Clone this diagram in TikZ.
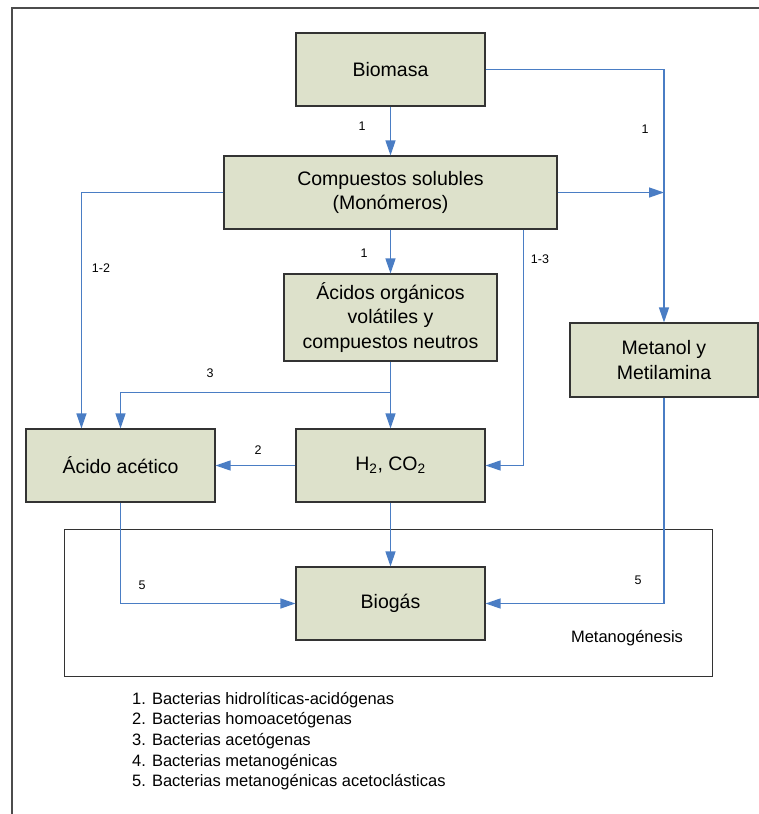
\documentclass[tikz,border=0pt]{standalone}
\usepackage{fontspec}
\setmainfont{Liberation Sans}
\usepackage{tikz}
\usetikzlibrary{calc}
\usetikzlibrary{arrows.meta}
\definecolor{boxfill}{HTML}{DDE1CB}
\definecolor{flowblue}{HTML}{4A7DC4}
\tikzset{stage/.style={rectangle, draw=black!80, fill=boxfill, line width=1.1pt, align=center, inner sep=0pt, font=\fontsize{19.5}{24.5}\selectfont}}
\tikzset{flow/.style={draw=flowblue, line width=1.3pt, -{Triangle[length=15pt, width=10pt]}}}
\tikzset{tag/.style={font=\fontsize{12.5}{15}\selectfont, inner sep=0pt}}
\tikzset{legend/.style={font=\fontsize{16.5}{20}\selectfont, inner sep=0pt, anchor=base west}}

\begin{document}
\begin{tikzpicture}[x=1pt,y=-1pt]
  \useasboundingbox (0,0) rectangle (759,814);
  \draw[black!70, line width=1.2pt] (12,814) -- (12,8) -- (759,8);
  % metanogenesis frame
  \draw[black!80, line width=1pt] (64,529) rectangle (712,676);
  \node[font=\fontsize{16.5}{20}\selectfont, inner sep=0pt] (metalab) at (627,638) {Metanogénesis};
  \foreach \x/\y/\lab/\w/\h/\txt in {
    390.5/69.5/bio/189/73/Biomasa,
    390.5/192.5/cs/333/73/Compuestos solubles\\(Monómeros),
    390.5/317.5/ao/213/87/Ácidos orgánicos\\volátiles y\\compuestos neutros,
    664/360/met/188/74/Metanol y\\Metilamina,
    120.5/465.5/ac/189/73/Ácido acético,
    390.5/465.5/h2/189/73/{H\textsubscript{2}, CO\textsubscript{2}},
    390.5/603.5/bg/189/73/Biogás%
  } {
    \node[stage, minimum width=\w pt, minimum height=\h pt] (\lab) at (\x, \y) {\txt};
  }
  \coordinate (split) at ($(ao.south)+(0,31)$);
  \draw[flow] (bio.south) -- (cs.north);
  \draw[flow] (bio.east) -| (met.north);
  \draw[flow] (cs.east) -- (cs.east -| met.north);
  \draw[flow] (cs.west) -| ($(ac.north west)+(56,0)$);
  \draw[flow] (cs.south) -- (ao.north);
  \draw[flow] ($(cs.south east)+(-34,0)$) |- (h2.east);
  \draw[flow] (ao.south) -- (h2.north);
  \draw[flow] (split) -| (ac.north);
  \draw[flow] (h2.west) -- (ac.east);
  \draw[flow] (h2.south) -- (bg.north);
  \draw[flow] (ac.south) |- (bg.west);
  \draw[flow] (met.south) |- (bg.east);
  % bacteria numbers
  \foreach \x/\y/\lab/\txt in {
    362/126/ta/1,
    645/129/tb/1,
    101/268/tc/1-2,
    364/253/td/1,
    540/259/te/1-3,
    210/373/tf/3,
    258/450/tg/2,
    142/585/th/5,
    638/580/ti/5%
  } {
    \node[tag] (\lab) at (\x, \y) {\txt};
  }
  \foreach \i/\txt in {
    1/Bacterias hidrolíticas-acidógenas,
    2/Bacterias homoacetógenas,
    3/Bacterias acetógenas,
    4/Bacterias metanogénicas,
    5/Bacterias metanogénicas acetoclásticas%
  } {
    \node[legend] (leg\i) at (132, {704+20.7*(\i-1)}) {\i. \txt};
  }
\end{tikzpicture}
\end{document}
